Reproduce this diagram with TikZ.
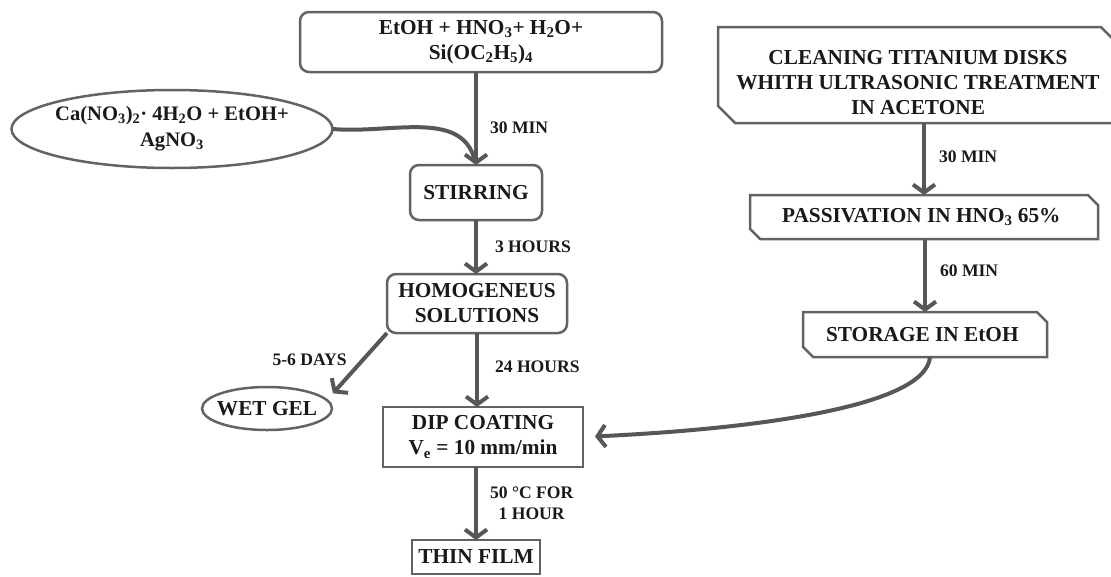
\documentclass[tikz,border=0pt]{standalone}
\usepackage{fontspec}
\setmainfont{Liberation Serif}
\usetikzlibrary{positioning, arrows.meta, shapes.geometric, shapes.misc}
\definecolor{linegray}{HTML}{575757}
\definecolor{framegray}{HTML}{636363}

\begin{document}
\begin{tikzpicture}[
		x=1pt, y=1pt,
		>={Straight Barb[length=8pt, width=22pt]}, % offene Pfeilspitzen
		every node/.style={font=\bfseries\fontsize{21.3}{25}\selectfont, text=black!90, align=center},
		flow/.style={color=linegray, line width=4pt},
		roundbox/.style={draw=framegray, line width=2.5pt, rounded corners=9pt, inner sep=0pt, outer sep=0pt},
		plainbox/.style={draw=framegray, line width=2.5pt, inner sep=0pt, outer sep=0pt},
		oval/.style={draw=framegray, line width=2.5pt, ellipse, inner sep=0pt, outer sep=0pt},
		snipbox/.style={draw=framegray, line width=2.5pt, chamfered rectangle,
			chamfered rectangle corners={north east, south west}, inner sep=0pt, outer sep=0pt},
		lbl/.style={font=\bfseries\fontsize{17.6}{21}\selectfont, inner sep=0pt}
		]
		\useasboundingbox (0,0) rectangle (1111,-576);
		
		% 1. Sol-Gel Zweig
		\node[roundbox, minimum width=132pt, minimum height=55pt] (stir) at (476,-192.5) {STIRRING};
		
		\node[roundbox, minimum width=362pt, minimum height=60pt] (sol) [above=93pt of stir, xshift=5pt] {
			EtOH + HNO\textsubscript{3}+ H\textsubscript{2}O+ \\
			Si(OC\textsubscript{2}H\textsubscript{5})\textsubscript{4}
		};
		
		\node[oval, inner xsep=-30pt, minimum width=321pt, minimum height=78pt,
			font=\bfseries\fontsize{20.6}{26}\selectfont] (ca) at (172,-129) {
			Ca(NO\textsubscript{3})\textsubscript{2}· 4H\textsubscript{2}O + EtOH+ \\
			AgNO\textsubscript{3}
		};
		
		\node[roundbox, minimum width=180pt, minimum height=59pt] (homo) [below=54pt of stir, xshift=1pt] {
			HOMOGENEUS \\
			SOLUTIONS
		};
		
		\node[plainbox, minimum width=200pt, minimum height=60pt] (dip) [below=74pt of homo, xshift=6pt] {
			DIP COATING \\
			V\textsubscript{e} = 10 mm/min
		};
		
		\node[plainbox, minimum width=128pt, minimum height=34pt] (film) [below=73pt of dip, xshift=-7pt] {THIN FILM};
		
		\node[oval, inner xsep=-14pt, inner ysep=-4pt, minimum width=130pt, minimum height=43pt] (gel) at (267,-408.5) {WET GEL};
		
		% 2. Substrat Zweig
		\node[snipbox, chamfered rectangle xsep=14pt, minimum width=400pt, minimum height=96pt] (clean) at (918,-75) {
			\rule{0pt}{30pt}CLEANING TITANIUM DISKS \\
			WHITH ULTRASONIC TREATMENT \\
			IN ACETONE
		};
		
		\node[snipbox, chamfered rectangle xsep=7pt, minimum width=348pt, minimum height=44pt] (pass) [below=72pt of clean, xshift=6pt] {
			PASSIVATION IN HNO\textsubscript{3} 65\%
		};
		
		\node[snipbox, chamfered rectangle xsep=7pt, minimum width=244pt, minimum height=45pt] (store) [below=73pt of pass, xshift=1pt] {
			STORAGE IN EtOH
		};
		
		% Transitionen
		\path[flow, ->]
		(stir |- sol.south) edge node [lbl, right=12pt, pos=0.6] {30 MIN} (stir.north)
		(ca.east) edge [-, out=-5, in=105, shorten >=6pt] (stir.north)
		(stir.south) edge node [lbl, right=17pt] {3 HOURS} (homo.north -| stir.south)
		(homo.south west) edge node [lbl, left=14pt, pos=0.45] {5-6 DAYS} ([xshift=20pt]gel.north east)
		(homo.south) edge node [lbl, right=16pt, pos=0.46] {24 HOURS} (homo.south |- dip.north)
		(film.north |- dip.south) edge node [lbl, right=12pt] {50 °C FOR \\ 1 HOUR} (film.north)
		(pass.north |- clean.south) edge node [lbl, right=13pt, pos=0.47] {30 MIN} (pass.north)
		(store.north |- pass.south) edge node [lbl, right=13pt, pos=0.44] {60 MIN} (store.north);
		
		\draw[flow, ->, shorten >=12pt] ([xshift=5pt]store.south) .. controls +(-4,-50) and +(170,8) .. (dip.east);
		
	\end{tikzpicture}
\end{document}
